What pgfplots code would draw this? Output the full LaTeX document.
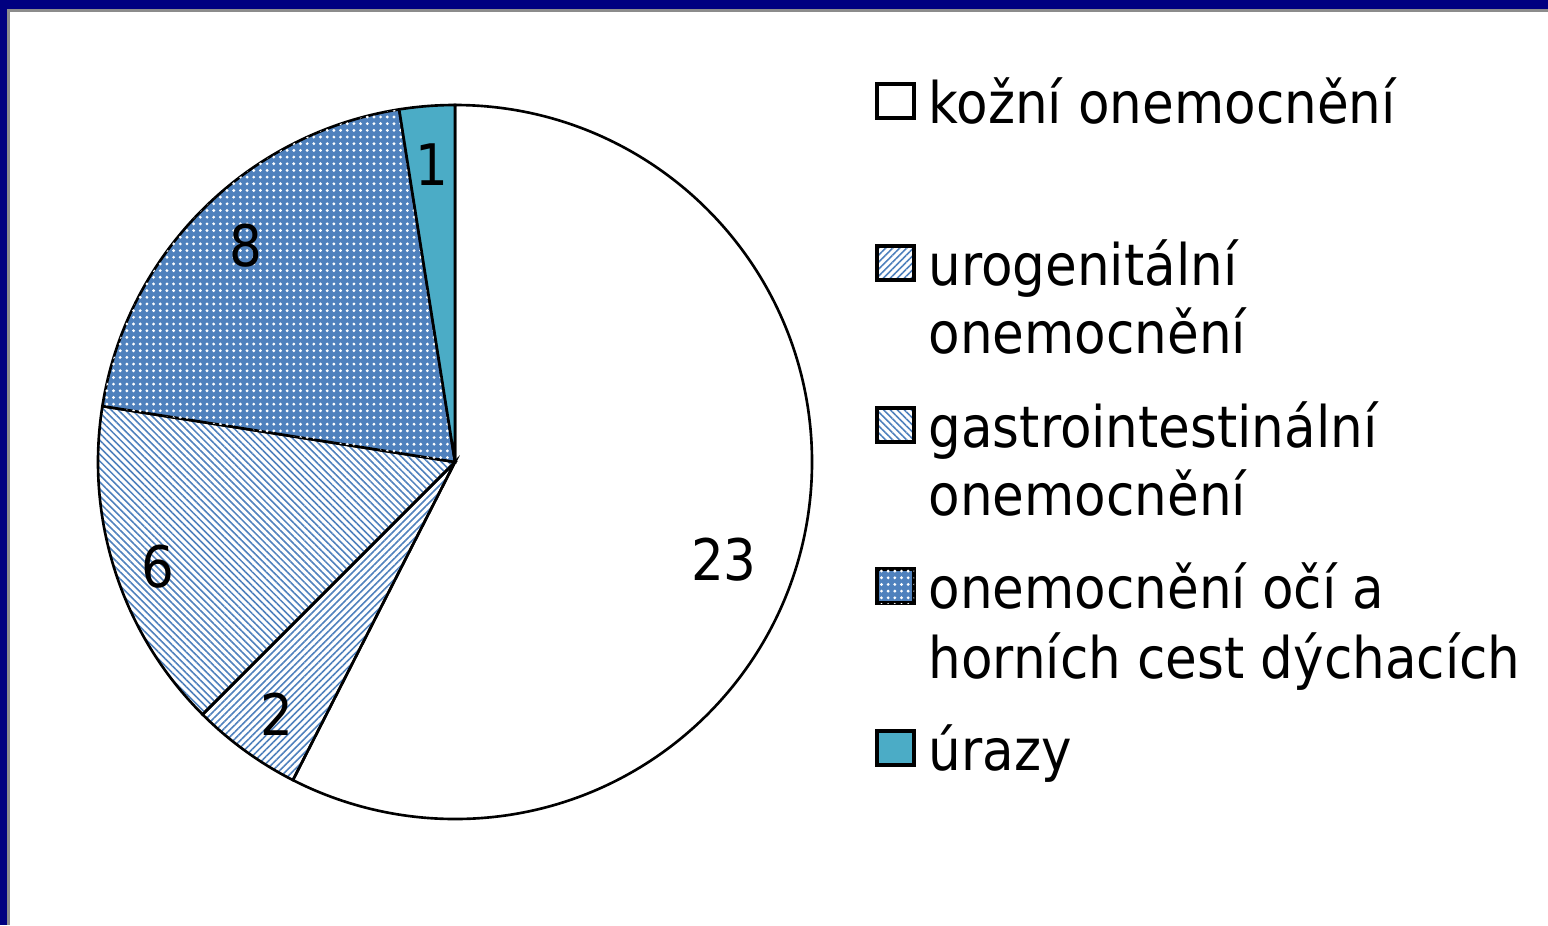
\documentclass[border=0pt]{standalone}
\usepackage{pgfplots}
\pgfplotsset{compat=1.18}
\usepackage{fontspec}
\setmainfont{DejaVu Sans Condensed}
\usetikzlibrary{patterns.meta}
\definecolor{pblue}{HTML}{4F81BD}
\definecolor{pteal}{HTML}{4BACC6}
\definecolor{navy}{HTML}{000080}
\definecolor{fgray}{HTML}{8C8C8C}
\tikzset{
  kozni/.style={fill=white},
  uro/.style={pattern={Lines[angle=45,distance=1.4pt,line width=0.45pt]},pattern color=pblue},
  gastro/.style={pattern={Lines[angle=-45,distance=1.4pt,line width=0.45pt]},pattern color=pblue},
  oci/.style={fill=pblue,postaction={pattern={Dots[radius=0.45pt,distance=1.9pt]},pattern color=white}},
  urazy/.style={fill=pteal},
  lab/.style={font=\fontsize{16.3}{19.9}\selectfont,inner sep=0pt,anchor=base west},
  num/.style={font=\fontsize{16.3}{19.9}\selectfont,inner sep=0pt,anchor=base},
}
\begin{document}
\begin{tikzpicture}
\begin{axis}[x=1cm,y=1cm,xmin=0,xmax=15.48,ymin=0,ymax=9.25,hide axis,scale only axis,clip=false]
\coordinate (SW) at (axis cs:0,0);
\coordinate (NE) at (axis cs:15.48,9.25);
\fill[white] (axis cs:0,0) rectangle (axis cs:15.48,9.25);
% frame
\fill[navy] (axis cs:0,9.16) rectangle (axis cs:15.48,9.25);
\fill[navy] (axis cs:0,0) rectangle (axis cs:0.07,9.25);
\fill[fgray] (axis cs:0.07,9.13) rectangle (axis cs:15.48,9.16);
\fill[fgray] (axis cs:0.07,0) rectangle (axis cs:0.10,9.16);
% pie: values 23, 2, 6, 8, 1 (total 40), clockwise from 90 deg
\draw[kozni,line width=0.75pt] (axis cs:4.55,4.63) -- ++(90:3.57cm) arc[start angle=90,end angle={90-23*9},radius=3.57cm] -- cycle;
\draw[uro,line width=0.75pt] (axis cs:4.55,4.63) -- ++({90-23*9}:3.57cm) arc[start angle={90-23*9},end angle={90-25*9},radius=3.57cm] -- cycle;
\draw[gastro,line width=0.75pt] (axis cs:4.55,4.63) -- ++({90-25*9}:3.57cm) arc[start angle={90-25*9},end angle={90-31*9},radius=3.57cm] -- cycle;
\draw[oci,line width=0.75pt] (axis cs:4.55,4.63) -- ++({90-31*9}:3.57cm) arc[start angle={90-31*9},end angle={90-39*9},radius=3.57cm] -- cycle;
\draw[urazy,line width=0.75pt] (axis cs:4.55,4.63) -- ++({90-39*9}:3.57cm) arc[start angle={90-39*9},end angle={90-40*9},radius=3.57cm] -- cycle;
% data labels
\node[num] at (axis cs:7.24,3.45) {23};
\node[num] at (axis cs:2.77,1.90) {2};
\node[num] at (axis cs:1.58,3.38) {6};
\node[num] at (axis cs:2.46,6.59) {8};
\node[num] at (axis cs:4.32,7.40) {1};
% legend
\draw[kozni,line width=1pt] (axis cs:8.77,8.07) rectangle (axis cs:9.14,8.41);
\draw[uro,line width=1pt] (axis cs:8.77,6.45) rectangle (axis cs:9.14,6.79);
\draw[gastro,line width=1pt] (axis cs:8.77,4.83) rectangle (axis cs:9.14,5.17);
\draw[oci,line width=1pt] (axis cs:8.77,3.22) rectangle (axis cs:9.14,3.56);
\draw[urazy,line width=1pt] (axis cs:8.77,1.60) rectangle (axis cs:9.14,1.94);
\node[lab] at (axis cs:9.28,8.02) {kožní onemocnění};
\node[lab] at (axis cs:9.28,6.40) {urogenitální};
\node[lab] at (axis cs:9.28,5.72) {onemocnění};
\node[lab] at (axis cs:9.28,4.78) {gastrointestinální};
\node[lab] at (axis cs:9.28,4.10) {onemocnění};
\node[lab] at (axis cs:9.28,3.17) {onemocnění očí a};
\node[lab] at (axis cs:9.28,2.47) {horních cest dýchacích};
\node[lab] at (axis cs:9.28,1.55) {úrazy};
\end{axis}
\pgfresetboundingbox
\useasboundingbox (SW) rectangle (NE);
\end{tikzpicture}
\end{document}
